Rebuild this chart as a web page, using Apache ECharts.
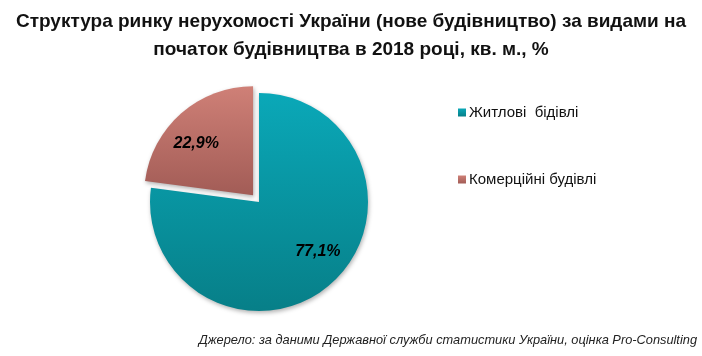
<!DOCTYPE html>
<html><head><meta charset="utf-8">
<script src="https://cdn.jsdelivr.net/npm/echarts@6/dist/echarts.min.js"></script>
<style>html,body{margin:0;padding:0;background:#fff}#c{width:702px;height:356px}</style>
</head><body><div id="c"></div>
<script>
var categories = ['Житлові  бідівлі', 'Комерційні будівлі'];
var values = [77.1, 22.9];
var labels = ['77,1%', '22,9%'];
var titleText = 'Структура ринку нерухомості України (нове будівництво) за видами на\nпочаток будівництва в 2018 році, кв. м., %';
var sourceText = 'Джерело: за даними Державної служби статистики України, оцінка Pro-Consulting';

var grads = [
  new echarts.graphic.LinearGradient(0, 0, 0, 1, [{offset: 0, color: '#0aa8b8'}, {offset: 1, color: '#077f88'}]),
  new echarts.graphic.LinearGradient(0, 0, 0, 1, [{offset: 0, color: '#cf8077'}, {offset: 1, color: '#a25c56'}])
];
var labelShift = [[21, 6], [-19, -8]];

var chart = echarts.init(document.getElementById('c'), null, {renderer: 'canvas'});
chart.setOption({
  animation: false,
  title: [{
    text: titleText,
    left: 'center', top: 3,
    textStyle: {fontFamily: 'Liberation Sans Narrow, Arial Narrow, sans-serif', fontWeight: 'bold', fontSize: 19, lineHeight: 28, color: '#111'}
  }, {
    text: sourceText,
    right: 0, bottom: 4,
    textStyle: {fontFamily: 'Liberation Sans, Arial, sans-serif', fontStyle: 'italic', fontWeight: 'normal', fontSize: 12.8, color: '#222'}
  }],
  legend: {
    orient: 'vertical',
    left: 453, top: 100,
    itemGap: 52,
    itemWidth: 8, itemHeight: 8,
    icon: 'rect',
    selectedMode: false,
    textStyle: {fontFamily: 'Liberation Sans, Arial, sans-serif', fontSize: 15, color: '#111', padding: [0, 0, 0, -2]},
    data: categories
  },
  series: [{
    type: 'pie',
    center: [259, 202],
    radius: [0, 109],
    startAngle: 90,
    clockwise: true,
    selectedMode: 'single',
    selectedOffset: 9,
    avoidLabelOverlap: false,
    itemStyle: {shadowBlur: 4, shadowColor: 'rgba(0,0,0,0.3)', shadowOffsetX: 1, shadowOffsetY: 2},
    label: {
      show: true, position: 'inside',
      fontFamily: 'Liberation Sans, Arial, sans-serif', fontSize: 16, fontWeight: 'bold', fontStyle: 'italic', color: '#000',
      formatter: function (p) { return labels[p.dataIndex]; }
    },
    labelLine: {show: false},
    labelLayout: function (p) { return {dx: labelShift[p.dataIndex][0], dy: labelShift[p.dataIndex][1]}; },
    emphasis: {disabled: true},
    data: categories.map(function (c, i) {
      return {name: c, value: values[i], selected: i === 1, itemStyle: {color: grads[i]}};
    })
  }]
});
</script></body></html>
